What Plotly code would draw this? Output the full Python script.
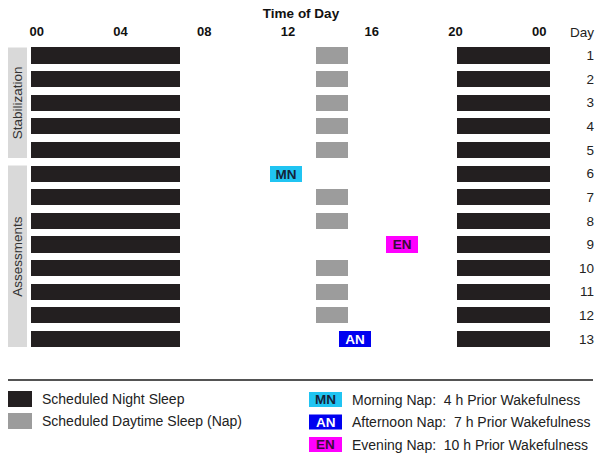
import plotly.graph_objects as go

# ---------------- data ----------------
days = list(range(1, 14))
day_ticks = [0] + days
day_ticktext = ["Day"] + [str(d) for d in days]

hour_ticks = [0, 4, 8, 12, 16, 20, 24]
hour_ticktext = ["00", "04", "08", "12", "16", "20", "00"]

night_early_start = -0.25
night_early_end = 6.85
night_late_start = 20.05
night_late_end = 24.5

nap_days = [1, 2, 3, 4, 5, 7, 8, 10, 11, 12]
nap_start = 13.35
nap_end = 14.85

special_labels = ["MN", "AN", "EN"]
special_days = [6, 13, 9]
special_starts = [11.15, 14.45, 16.7]
special_ends = [12.65, 15.95, 18.2]
special_desc = ["Morning Nap:  4 h Prior Wakefulness",
                "Afternoon Nap:  7 h Prior Wakefulness",
                "Evening Nap:  10 h Prior Wakefulness"]

groups = ["Stabilization", "Assessments"]
group_first = [1, 6]
group_last = [5, 13]

legend_labels = ["Scheduled Night Sleep", "Scheduled Daytime Sleep (Nap)"]

# ---------------- style ----------------
FONT = "Liberation Sans, Arial, sans-serif"
W, H = 602, 460
C_NIGHT = "#231f20"
C_NAP = "#9c9c9c"
C_SPECIAL = ["#20c4f2", "#0000f0", "#ff00ff"]
C_SPECIAL_TXT = ["#14233a", "#ffffff", "#3a0a3a"]
C_GROUP = "#d9d9d9"
BAR_W = 0.68

def px(x):
    return x / W

def py(y):
    return 1 - y / H

fig = go.Figure()

fig.add_trace(go.Bar(
    orientation="h", y=days,
    x=[night_early_end - night_early_start] * len(days),
    base=[night_early_start] * len(days),
    width=BAR_W, marker=dict(color=C_NIGHT, line=dict(width=0)),
    showlegend=False, hoverinfo="skip"))
fig.add_trace(go.Bar(
    orientation="h", y=days,
    x=[night_late_end - night_late_start] * len(days),
    base=[night_late_start] * len(days),
    width=BAR_W, marker=dict(color=C_NIGHT, line=dict(width=0)),
    showlegend=False, hoverinfo="skip"))
fig.add_trace(go.Bar(
    orientation="h", y=nap_days,
    x=[nap_end - nap_start] * len(nap_days),
    base=[nap_start] * len(nap_days),
    width=BAR_W, marker=dict(color=C_NAP, line=dict(width=0)),
    showlegend=False, hoverinfo="skip"))
for i, lab in enumerate(special_labels):
    fig.add_trace(go.Bar(
        orientation="h", y=[special_days[i]],
        x=[special_ends[i] - special_starts[i]],
        base=[special_starts[i]],
        width=BAR_W, marker=dict(color=C_SPECIAL[i], line=dict(width=0)),
        text=[lab], textposition="inside", insidetextanchor="middle",
        constraintext="none",
        textfont=dict(family=FONT, size=13.5, color=C_SPECIAL_TXT[i], weight="bold"),
        showlegend=False, hoverinfo="skip"))

shapes = []
annotations = []

# group boxes
for g, f, l in zip(groups, group_first, group_last):
    shapes.append(dict(type="rect", xref="paper", yref="y",
                       x0=px(8), x1=px(27), y0=f - BAR_W / 2, y1=l + BAR_W / 2,
                       fillcolor=C_GROUP, line=dict(width=0), layer="below"))
    annotations.append(dict(xref="paper", yref="y", x=px(17.5), y=(f + l) / 2,
                            xanchor="center", yanchor="middle",
                            text=g, textangle=-90, showarrow=False,
                            font=dict(family=FONT, size=13.5, color="#333333")))

# separator
shapes.append(dict(type="line", xref="paper", yref="paper",
                   x0=px(8), x1=px(593), y0=py(380), y1=py(380),
                   line=dict(color="#1a1a1a", width=1.5)))

# left legend
left_colors = [C_NIGHT, C_NAP]
left_rows = [399, 421]
for lab, col, yc in zip(legend_labels, left_colors, left_rows):
    shapes.append(dict(type="rect", xref="paper", yref="paper",
                       x0=px(8), x1=px(32), y0=py(yc - 8), y1=py(yc + 8),
                       fillcolor=col, line=dict(width=0)))
    annotations.append(dict(xref="paper", yref="paper", x=px(40), y=py(yc),
                            xanchor="left", yanchor="middle", text=lab,
                            showarrow=False,
                            font=dict(family=FONT, size=14, color="#222222")))

# right legend
right_rows = [399.5, 422, 444.5]
for i, lab in enumerate(special_labels):
    yc = right_rows[i]
    shapes.append(dict(type="rect", xref="paper", yref="paper",
                       x0=px(309), x1=px(342), y0=py(yc - 7.5), y1=py(yc + 7.5),
                       fillcolor=C_SPECIAL[i], line=dict(width=0)))
    annotations.append(dict(xref="paper", yref="paper", x=px(325.5), y=py(yc),
                            xanchor="center", yanchor="middle", text=lab,
                            showarrow=False,
                            font=dict(family=FONT, size=13.5, color=C_SPECIAL_TXT[i],
                                      weight="bold")))
    annotations.append(dict(xref="paper", yref="paper", x=px(350), y=py(yc),
                            xanchor="left", yanchor="middle",
                            text=special_desc[i].replace("  ", " \u00a0"),
                            showarrow=False,
                            font=dict(family=FONT, size=14, color="#222222")))

x0 = -36.7 / 20.94
x1 = (W - 36.7) / 20.94
y_top = 1 - 55.5 / 23.625
y_bot = 1 + (H - 55.5) / 23.625

fig.update_layout(
    template="none",
    width=W, height=H,
    margin=dict(l=0, r=0, t=0, b=0),
    paper_bgcolor="white", plot_bgcolor="white",
    barmode="overlay",
    bargap=0,
    shapes=shapes, annotations=annotations,
    font=dict(family=FONT, color="#222222"),
    xaxis=dict(range=[x0, x1], side="top", anchor="free", position=py(39),
               tickvals=hour_ticks, ticktext=hour_ticktext,
               tickfont=dict(family=FONT, size=13, color="#111111", weight="bold"),
               ticks="", showline=False, showgrid=False, zeroline=False,
               automargin=False,
               title=dict(text="Time of Day", standoff=1,
                          font=dict(family=FONT, size=13.5, color="#111111",
                                    weight="bold"))),
    yaxis=dict(range=[y_bot, y_top], side="left", anchor="free", position=px(594),
               tickvals=day_ticks, ticktext=day_ticktext,
               tickfont=dict(family=FONT, size=13.5, color="#222222"),
               ticks="", showline=False, showgrid=False, zeroline=False,
               automargin=False),
)

fig.write_html("out.html",
               config={"displayModeBar": False},
               post_script="document.body.style.margin='0';document.body.style.overflow='hidden';")
